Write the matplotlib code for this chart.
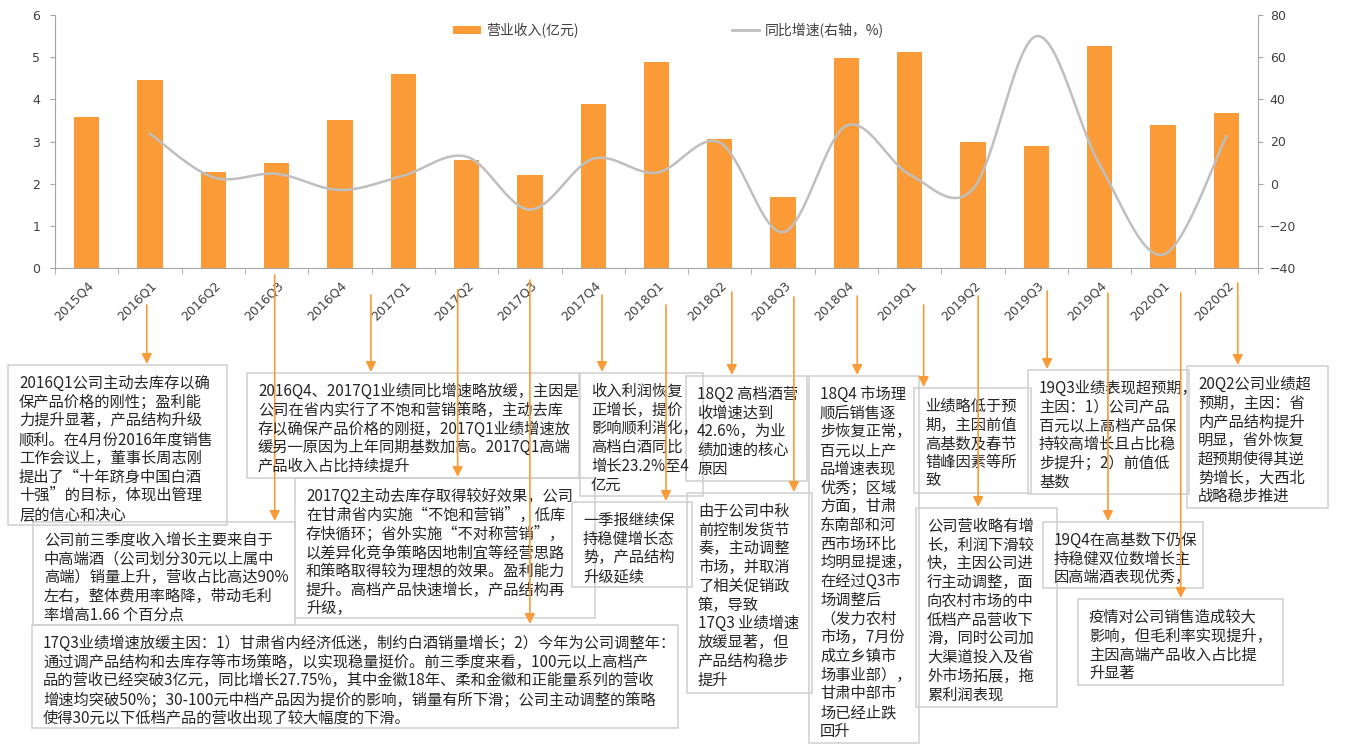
import numpy as np
import matplotlib
matplotlib.use('Agg')
import matplotlib.pyplot as plt
import matplotlib.transforms as mtransforms
from matplotlib.patches import Rectangle, Patch
from matplotlib.lines import Line2D
from matplotlib.font_manager import FontProperties

# ---- data ----
quarters = ['2015Q4', '2016Q1', '2016Q2', '2016Q3', '2016Q4', '2017Q1', '2017Q2',
            '2017Q3', '2017Q4', '2018Q1', '2018Q2', '2018Q3', '2018Q4', '2019Q1',
            '2019Q2', '2019Q3', '2019Q4', '2020Q1', '2020Q2']
revenue = [3.58, 4.45, 2.28, 2.50, 3.50, 4.60, 2.56, 2.20, 3.89, 4.88,
           3.06, 1.68, 4.97, 5.12, 3.00, 2.90, 5.26, 3.40, 3.67]
# growth (%) starts at 2016Q1
growth = [23.7, 3.0, 4.7, -3.0, 3.8, 12.8, -12.3, 11.8, 5.2,
          19.5, -23.0, 27.5, 4.3, -2.5, 70.0, 9.0, -33.7, 22.4]
legend_labels = ['营业收入(亿元)', '同比增速(右轴，%)']

notes = [
    "2016Q1公司主动去库存以确\n保产品价格的刚性；盈利能\n力提升显著，产品结构升级\n顺利。在4月份2016年度销售\n工作会议上，董事长周志刚\n提出了“十年跻身中国白酒\n十强”的目标，体现出管理\n层的信心和决心",
    "公司前三季度收入增长主要来自于\n中高端酒（公司划分30元以上属中\n高端）销量上升，营收占比高达90%\n左右，整体费用率略降，带动毛利\n率增高1.66 个百分点",
    "2016Q4、2017Q1业绩同比增速略放缓，主因是\n公司在省内实行了不饱和营销策略，主动去库\n存以确保产品价格的刚挺，2017Q1业绩增速放\n缓另一原因为上年同期基数加高。2017Q1高端\n产品收入占比持续提升",
    "2017Q2主动去库存取得较好效果，公司\n在甘肃省内实施“不饱和营销”，低库\n存快循环；省外实施“不对称营销”，\n以差异化竞争策略因地制宜等经营思路\n和策略取得较为理想的效果。盈利能力\n提升。高档产品快速增长，产品结构再\n升级，",
    "17Q3业绩增速放缓主因：1）甘肃省内经济低迷，制约白酒销量增长；2）今年为公司调整年：\n通过调产品结构和去库存等市场策略，以实现稳量挺价。前三季度来看，100元以上高档产\n品的营收已经突破3亿元，同比增长27.75%，其中金徽18年、柔和金徽和正能量系列的营收\n增速均突破50%；30-100元中档产品因为提价的影响，销量有所下滑；公司主动调整的策略\n使得30元以下低档产品的营收出现了较大幅度的下滑。",
    "收入利润恢复\n正增长，提价\n影响顺利消化，\n高档白酒同比\n增长23.2%至4\n亿元",
    "一季报继续保\n持稳健增长态\n势，产品结构\n升级延续",
    "18Q2 高档酒营\n收增速达到\n42.6%，为业\n绩加速的核心\n原因",
    "由于公司中秋\n前控制发货节\n奏，主动调整\n市场，并取消\n了相关促销政\n策，导致\n17Q3 业绩增速\n放缓显著，但\n产品结构稳步\n提升",
    "18Q4 市场理\n顺后销售逐\n步恢复正常，\n百元以上产\n品增速表现\n优秀；区域\n方面，甘肃\n东南部和河\n西市场环比\n均明显提速，\n在经过Q3市\n场调整后\n（发力农村\n市场，7月份\n成立乡镇市\n场事业部），\n甘肃中部市\n场已经止跌\n回升",
    "业绩略低于预\n期，主因前值\n高基数及春节\n错峰因素等所\n致",
    "公司营收略有增\n长，利润下滑较\n快，主因公司进\n行主动调整，面\n向农村市场的中\n低档产品营收下\n滑，同时公司加\n大渠道投入及省\n外市场拓展，拖\n累利润表现",
    "19Q3业绩表现超预期，\n主因：1）公司产品\n百元以上高档产品保\n持较高增长且占比稳\n步提升；2）前值低\n基数",
    "19Q4在高基数下仍保\n持稳健双位数增长主\n因高端酒表现优秀，",
    "疫情对公司销售造成较大\n影响，但毛利率实现提升，\n主因高端产品收入占比提\n升显著",
    "20Q2公司业绩超\n预期，主因：省\n内产品结构提升\n明显，省外恢复\n超预期使得其逆\n势增长，大西北\n战略稳步推进",
]

# layout of the note boxes in figure pixels (x0, y0, x1, y1 from top-left),
# arrow x in category units, arrow start y in pixels
note_boxes = [(8, 365, 227, 525), (33, 522, 295, 625), (247, 373, 579, 478),
              (295, 478, 595, 618), (32, 625, 678, 728), (580, 373, 703, 496),
              (572, 502, 692, 587), (686, 376, 807, 481), (687, 493, 812, 693),
              (809, 376, 919, 743), (914, 388, 1031, 493), (916, 508, 1057, 707),
              (1028, 370, 1189, 494), (1043, 522, 1203, 588), (1078, 599, 1283, 685),
              (1187, 366, 1328, 508)]
arrow_x = [0.95, 2.97, 4.49, 5.86, 7.0, 8.14, 9.15, 10.19, 11.17, 12.17,
           13.22, 14.08, 15.17, 16.13, 17.28, 18.18]
arrow_y0 = [305, 275, 295, 290, 280, 295, 305, 292, 297, 296, 305, 296, 291, 293, 293, 283]

ORANGE = '#FA9B37'
GRAY = '#BFBFBF'
AXIS = '#A6A6A6'
TXT = '#404040'
CJK = ['Noto Sans CJK SC', 'DejaVu Sans']
W, H = 1349, 744

plt.rcParams['font.family'] = ['DejaVu Sans']


def smooth(xs, ys, n=30):
    # Excel-like smoothed line (Bezier through every point)
    pts = np.column_stack([xs, ys]).astype(float)
    out = []
    for k in range(len(pts) - 1):
        p0 = pts[k - 1] if k > 0 else pts[k]
        p1, p2 = pts[k], pts[k + 1]
        p3 = pts[k + 2] if k + 2 < len(pts) else pts[k + 1]
        c1 = p1 + (p2 - p0) / 6
        c2 = p2 - (p3 - p1) / 6
        t = np.linspace(0, 1, n)[:, None]
        seg = (1 - t)**3 * p1 + 3 * (1 - t)**2 * t * c1 + 3 * (1 - t) * t**2 * c2 + t**3 * p2
        out.append(seg if k == 0 else seg[1:])
    return np.vstack(out)


fig = plt.figure(figsize=(W / 100, H / 100), dpi=100)
ax = fig.add_axes([55 / W, 1 - 268 / H, (1258 - 55) / W, (268 - 15) / H])
x = np.arange(len(quarters))
ax.bar(x, revenue, width=0.4, color=ORANGE, zorder=2)
ax.set_xlim(-0.5, len(quarters) - 0.5)
ax.set_ylim(0, 6)

ax2 = ax.twinx()
ax2.set_ylim(-40, 80)
sm = smooth(x[1:], growth)
ax2.plot(sm[:, 0], sm[:, 1], color=GRAY, lw=1.8)

for a in (ax, ax2):
    a.spines['top'].set_visible(False)
    for s in a.spines.values():
        s.set_color(AXIS)
ax.spines['right'].set_visible(False)
ax2.spines['left'].set_visible(False)
ax2.spines['bottom'].set_visible(False)

ax.set_yticks(range(0, 7))
ax2.set_yticks(range(-40, 81, 20))
ax.tick_params(axis='y', length=3.5, color=AXIS, labelsize=9, labelcolor=TXT, pad=7)
ax2.tick_params(axis='y', length=3.5, color=AXIS, labelsize=9, labelcolor=TXT, pad=5)

ax.set_xticks(x)
ax.set_xticklabels(quarters)
ax.set_xticks(np.arange(-0.5, len(quarters), 1), minor=True)
ax.tick_params(axis='x', which='major', length=0, labelsize=9, labelcolor=TXT, pad=11)
ax.tick_params(axis='x', which='minor', length=4, color=AXIS)
shift = mtransforms.ScaledTranslation(0.05, 0, fig.dpi_scale_trans)
for lab in ax.get_xticklabels():
    lab.set_rotation(45)
    lab.set_ha('right')
    lab.set_va('center')
    lab.set_rotation_mode('anchor')
    lab.set_transform(lab.get_transform() + shift)

handles = [Patch(facecolor=ORANGE, edgecolor='none'), Line2D([], [], color=GRAY, lw=2)]
ax2.legend(handles, legend_labels, loc='center', bbox_to_anchor=(0.51, 0.94), ncol=2,
           frameon=False, prop=FontProperties(family=CJK, size=10), labelcolor=TXT,
           handlelength=2, handleheight=0.5, handletextpad=0.4, columnspacing=11)

# overlay in pixel coordinates for the note boxes
ov = fig.add_axes([0, 0, 1, 1])
ov.set_xlim(0, W)
ov.set_ylim(H, 0)
ov.axis('off')
ov.set_zorder(5)
blend = mtransforms.blended_transform_factory(ax.transData, ov.transData)

line_h = 18.7
for txt, (x0, y0, x1, y1), ax_x, ay in zip(notes, note_boxes, arrow_x, arrow_y0):
    ov.add_patch(Rectangle((x0, y0), x1 - x0, y1 - y0, facecolor='none',
                           edgecolor='#D0D0D0', lw=1.1))
    for k, line in enumerate(txt.split('\n')):
        ov.text(x0 + 11, y0 + 23 + k * line_h, line, family=CJK, fontsize=11,
                color='#262626', ha='left', va='baseline')
    ov.annotate('', xy=(ax_x, y0 - 1), xytext=(ax_x, ay), xycoords=blend, textcoords=blend,
                arrowprops=dict(arrowstyle='-|>,head_length=0.6,head_width=0.3',
                                color=ORANGE, lw=1.2, shrinkA=0, shrinkB=0,
                                mutation_scale=10))

fig.savefig('out.png', dpi=100)
